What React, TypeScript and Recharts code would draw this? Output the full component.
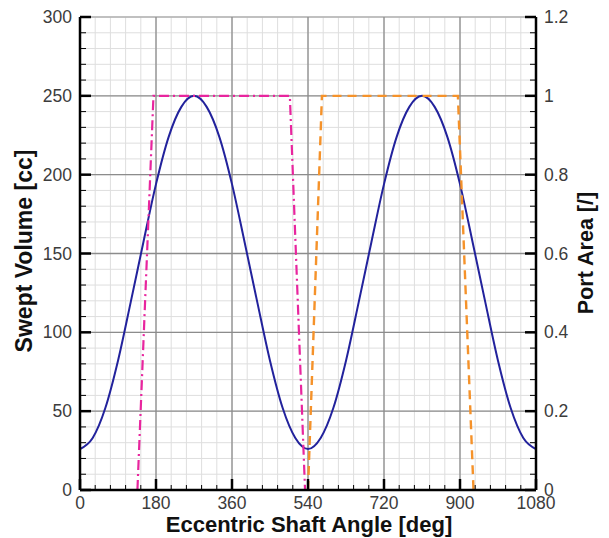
import React from 'react';
import { LineChart, Line, XAxis, YAxis, CartesianGrid, ReferenceLine } from 'recharts';

// Eccentric shaft angle samples [deg] and swept volume [cc]
const angles = [0, 30, 60, 90, 120, 150, 180, 210, 240, 270, 300, 330, 360, 390, 420, 450, 480, 510, 540,
  570, 600, 630, 660, 690, 720, 750, 780, 810, 840, 870, 900, 930, 960, 990, 1020, 1050, 1080];
const sweptVolume = [26, 33, 52, 82, 119, 157, 194, 224, 243, 250, 243, 224, 194, 157, 119, 82, 52, 33, 26,
  33, 52, 82, 119, 157, 194, 224, 243, 250, 243, 224, 194, 157, 119, 82, 52, 33, 26];

// Intake port area (pink dash-dot)
const intakeAngles = [136, 174, 497, 533];
const intakeArea = [0, 1, 1, 0];

// Exhaust port area (orange dashed)
const exhaustAngles = [540, 573, 895, 932];
const exhaustArea = [0, 1, 1, 0];

// Tick labels
const xMajorTicks = [0, 180, 360, 540, 720, 900, 1080];
const leftMajorTicks = [0, 50, 100, 150, 200, 250, 300];
const rightMajorTicks = [0, 0.2, 0.4, 0.6, 0.8, 1, 1.2];

const xMinorTicks = Array.from({ length: 31 }, (_, i) => i * 36);
const leftMinorTicks = Array.from({ length: 31 }, (_, i) => i * 10);
const rightMinorTicks = Array.from({ length: 31 }, (_, i) => Math.round(i * 4) / 100);

const volumeData = angles.map((a, i) => ({ x: a, v: sweptVolume[i] }));
const intakeData = intakeAngles.map((a, i) => ({ x: a, p: intakeArea[i] }));
const exhaustData = exhaustAngles.map((a, i) => ({ x: a, p: exhaustArea[i] }));

const FONT = 'Arial, "Liberation Sans", sans-serif';
const TICK_COLOR = '#3c3c3c';
const TICK_FS = 17.5;

const isMajor = (list: number[], v: number) => list.some((m) => Math.abs(m - v) < 1e-6);

const BottomTick = (props: any) => {
  const { x, y, payload } = props;
  const v = payload.value;
  const major = isMajor(xMajorTicks, v);
  return (
    <g>
      <line x1={x} x2={x} y1={y} y2={y - (major ? 11 : 5)} stroke="#000" strokeWidth={major ? 2.5 : 1} />
      {major && (
        <text x={x} y={y + 13} dy="0.35em" textAnchor="middle" fontSize={TICK_FS} fill={TICK_COLOR} fontFamily={FONT}>
          {v}
        </text>
      )}
    </g>
  );
};

const LeftTick = (props: any) => {
  const { x, y, payload } = props;
  const v = payload.value;
  const major = isMajor(leftMajorTicks, v);
  return (
    <g>
      <line x1={x} x2={x + (major ? 11 : 6)} y1={y} y2={y} stroke="#000" strokeWidth={major ? 2.5 : 1} />
      {major && (
        <text x={x - 8} y={y} dy="0.35em" textAnchor="end" fontSize={TICK_FS} fill={TICK_COLOR} fontFamily={FONT}>
          {v}
        </text>
      )}
    </g>
  );
};

const RightTick = (props: any) => {
  const { x, y, payload } = props;
  const v = payload.value;
  const major = isMajor(rightMajorTicks, v);
  return (
    <g>
      <line x1={x} x2={x - (major ? 11 : 6)} y1={y} y2={y} stroke="#000" strokeWidth={major ? 2.5 : 1} />
      {major && (
        <text x={x + 8} y={y} dy="0.35em" textAnchor="start" fontSize={TICK_FS} fill={TICK_COLOR} fontFamily={FONT}>
          {String(Math.round(v * 10) / 10)}
        </text>
      )}
    </g>
  );
};

const AxisTitle = (props: any) => {
  const { tx, ty, rot, text, fs } = props;
  return (
    <text
      x={tx}
      y={ty}
      transform={rot ? `rotate(${rot} ${tx} ${ty})` : undefined}
      textAnchor="middle"
      dy="0.35em"
      fontSize={fs}
      fontWeight="bold"
      fill="#111"
      fontFamily={FONT}
    >
      {text}
    </text>
  );
};

export default function App() {
  return (
    <div style={{ width: 600, height: 530 }}>
      <LineChart width={600} height={530} margin={{ top: 9, right: 0, bottom: 0, left: 0 }}>
        <CartesianGrid xAxisId="x" yAxisId="left" stroke="#dedede" strokeWidth={1} />
        <XAxis
          xAxisId="x"
          type="number"
          dataKey="x"
          domain={[0, 1080]}
          ticks={xMinorTicks}
          interval={0}
          height={48}
          tickSize={0}
          tickMargin={0}
          tick={<BottomTick />}
          tickLine={false}
          axisLine={{ stroke: '#000', strokeWidth: 2.5 }}
          allowDataOverflow
          label={<AxisTitle tx={301} ty={516} fs={22} text="Eccentric Shaft Angle [deg]" />}
        />
        <YAxis
          yAxisId="left"
          orientation="left"
          type="number"
          domain={[0, 300]}
          ticks={leftMinorTicks}
          interval={0}
          width={72}
          tickSize={0}
          tickMargin={0}
          tick={<LeftTick />}
          tickLine={false}
          axisLine={{ stroke: '#000', strokeWidth: 2.5 }}
          allowDataOverflow
          label={<AxisTitle tx={16} ty={243} rot={-90} fs={23} text="Swept Volume [cc]" />}
        />
        <YAxis
          yAxisId="right"
          orientation="right"
          type="number"
          domain={[0, 1.2]}
          ticks={rightMinorTicks}
          interval={0}
          width={72}
          tickSize={0}
          tickMargin={0}
          tick={<RightTick />}
          tickLine={false}
          axisLine={{ stroke: '#000', strokeWidth: 2.5 }}
          allowDataOverflow
          label={<AxisTitle tx={577} ty={245} rot={-90} fs={21.5} text="Port Area [/]" />}
        />
        {leftMajorTicks.filter((v) => v > 0).map((v) => (
          <ReferenceLine key={'h' + v} xAxisId="x" yAxisId="left" y={v} stroke={v === 300 ? '#b0b0b0' : '#8c8c8c'} strokeWidth={1.3} />
        ))}
        {xMajorTicks.filter((v) => v > 0 && v < 1080).map((v) => (
          <ReferenceLine key={'v' + v} xAxisId="x" yAxisId="left" x={v} stroke="#8c8c8c" strokeWidth={1.3} />
        ))}
        <Line
          xAxisId="x"
          yAxisId="left"
          data={volumeData}
          dataKey="v"
          type="monotone"
          stroke="#22229c"
          strokeWidth={2}
          dot={false}
          activeDot={false}
          isAnimationActive={false}
        />
        <Line
          xAxisId="x"
          yAxisId="right"
          data={intakeData}
          dataKey="p"
          type="linear"
          stroke="#e8259e"
          strokeWidth={2.2}
          strokeDasharray="10 4 2 4"
          dot={false}
          activeDot={false}
          isAnimationActive={false}
        />
        <Line
          xAxisId="x"
          yAxisId="right"
          data={exhaustData}
          dataKey="p"
          type="linear"
          stroke="#f5922a"
          strokeWidth={2.4}
          strokeDasharray="9 6"
          dot={false}
          activeDot={false}
          isAnimationActive={false}
        />
      </LineChart>
    </div>
  );
}
